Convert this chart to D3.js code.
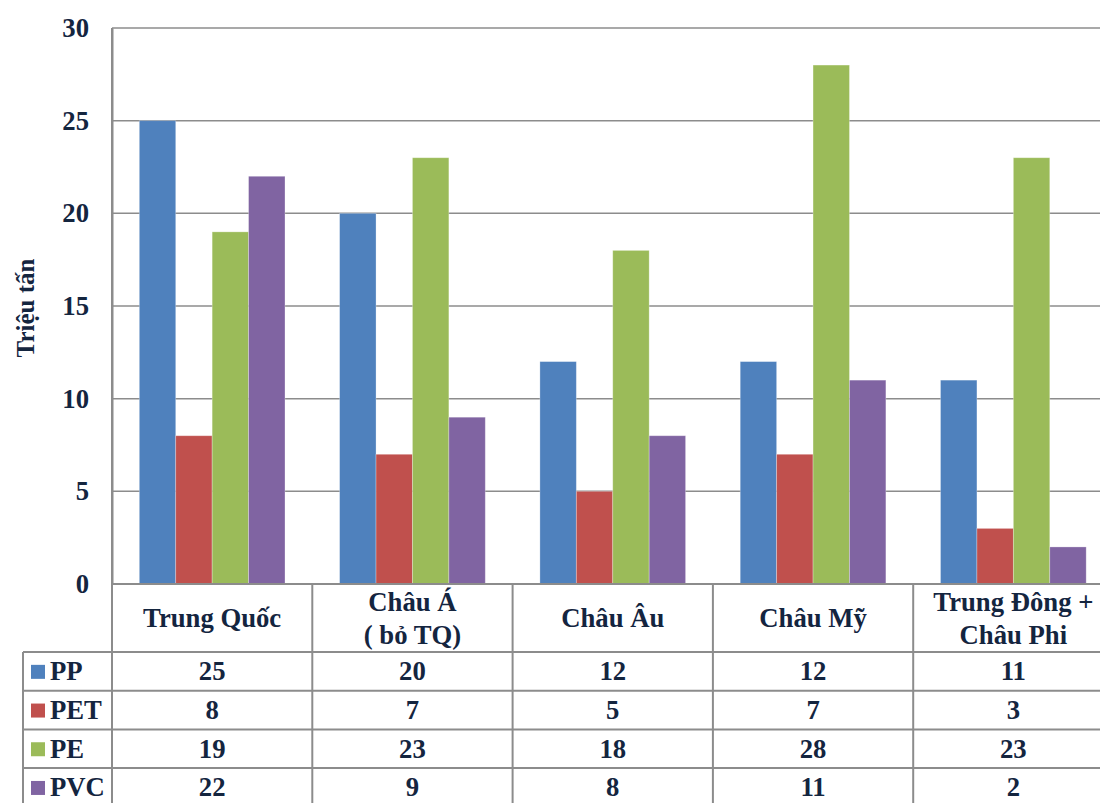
<!DOCTYPE html>
<html>
<head>
<meta charset="utf-8">
<script src="https://cdn.jsdelivr.net/npm/d3@7"></script>
<style>
  html, body { margin: 0; padding: 0; background: #fff; }
  svg { display: block; }
</style>
</head>
<body>
<svg id="chart" width="1100" height="803"></svg>
<script>
// Regions (header rows of the data table; "\n" splits a label onto two lines)
const categories = ["Trung Quốc", "Châu Á\n( bỏ TQ)", "Châu Âu", "Châu Mỹ", "Trung Đông +\nChâu Phi"];
const seriesNames = ["PP", "PET", "PE", "PVC"];
const seriesColors = ["#4f81bd", "#c0504d", "#9bbb59", "#8064a2"];
// Values in million tonnes, one array per plastic type
const ppValues  = [25, 20, 12, 12, 11];
const petValues = [8, 7, 5, 7, 3];
const peValues  = [19, 23, 18, 28, 23];
const pvcValues = [22, 9, 8, 11, 2];
const yTicks = [0, 5, 10, 15, 20, 25, 30];
const yTitle = "Triệu tấn";

const series = [ppValues, petValues, peValues, pvcValues].map((values, i) => ({
  name: seriesNames[i], color: seriesColors[i], values
}));

const FONT = "'Liberation Serif', 'Times New Roman', serif";
const INK = "#14253f";
const FS = 26.7;

const svg = d3.select("#chart");
const gridColor = "#8c8c8c";

// apply the shared label style to a text selection
function label(sel, size) {
  return sel.style("font-family", FONT).style("font-weight", "bold")
    .style("font-size", (size || FS) + "px").style("fill", INK);
}

const plotLeft = 112, plotRight = 1113.5, plotTop = 28, plotBottom = 584;
const x = d3.scaleBand().domain(categories).range([plotLeft, plotRight]).paddingInner(0).paddingOuter(0);
const xs = d3.scaleBand().domain(seriesNames).range([0, x.bandwidth()]).paddingInner(0).paddingOuter(0.75);
const y = d3.scaleLinear().domain([0, 30]).range([plotBottom, plotTop]);

// Horizontal gridlines
svg.append("g")
  .selectAll("line")
  .data(yTicks.filter(t => t > 0))
  .join("line")
  .attr("x1", plotLeft).attr("x2", plotRight)
  .attr("y1", d => y(d)).attr("y2", d => y(d))
  .attr("stroke", gridColor).attr("stroke-width", 1.5);

// Y axis
const yAxis = d3.axisLeft(y).tickValues(yTicks).tickSize(0).tickPadding(23).tickFormat(d3.format("d"));
const gy = svg.append("g").attr("transform", `translate(${plotLeft},0)`).call(yAxis);
gy.select(".domain").attr("stroke", gridColor).attr("stroke-width", 2);
label(gy.selectAll("text"));

label(svg.append("text")
  .attr("transform", `translate(34,${(y(30) + y(0)) / 2 + 2}) rotate(-90)`)
  .attr("text-anchor", "middle"), 25)
  .text(yTitle);

// Bars
const groups = svg.append("g").selectAll("g")
  .data(categories)
  .join("g")
  .attr("transform", d => `translate(${x(d)},0)`);

groups.selectAll("rect")
  .data((d, ci) => series.map(s => ({ name: s.name, color: s.color, value: s.values[ci] })))
  .join("rect")
  .attr("x", d => xs(d.name))
  .attr("width", xs.bandwidth())
  .attr("y", d => y(d.value))
  .attr("height", d => y(0) - y(d.value))
  .attr("fill", d => d.color)
  .attr("stroke", "#ffffff").attr("stroke-opacity", 0.35).attr("stroke-width", 0.8);

// Data table beneath the plot
const headerBottom = 652;
const rowH = 38.7;
const legendLeft = 23;
const tableBottom = headerBottom + rowH * 4 + 10;
const table = svg.append("g").attr("fill", "none").attr("stroke", gridColor).attr("stroke-width", 2);

// horizontal rules
table.append("line").attr("x1", plotLeft).attr("x2", plotRight).attr("y1", plotBottom).attr("y2", plotBottom);
d3.range(4).forEach(i => {
  const yy = headerBottom + i * rowH;
  table.append("line").attr("x1", legendLeft).attr("x2", plotRight).attr("y1", yy).attr("y2", yy);
});
// vertical rules
table.append("line").attr("x1", legendLeft).attr("x2", legendLeft).attr("y1", headerBottom).attr("y2", tableBottom);
table.append("line").attr("x1", plotLeft).attr("x2", plotLeft).attr("y1", plotTop).attr("y2", tableBottom);
categories.forEach(c => {
  const xx = x(c) + x.bandwidth();
  table.append("line").attr("x1", xx).attr("x2", xx).attr("y1", plotBottom).attr("y2", tableBottom);
});

// category header labels
const headerMid = (plotBottom + headerBottom) / 2;
categories.forEach(c => {
  const lines = c.split("\n");
  const lh = 33;
  const t = label(svg.append("text").attr("text-anchor", "middle"));
  lines.forEach((ln, i) => {
    t.append("tspan")
      .attr("x", x(c) + x.bandwidth() / 2)
      .attr("y", headerMid + 9 + (i - (lines.length - 1) / 2) * lh)
      .text(ln);
  });
});

// legend keys + value rows
series.forEach((s, si) => {
  const rowMid = headerBottom + si * rowH + rowH / 2;
  svg.append("rect")
    .attr("x", 31).attr("y", rowMid - 6.5)
    .attr("width", 14).attr("height", 14)
    .attr("fill", s.color);
  label(svg.append("text")
    .attr("x", 50).attr("y", rowMid + 9))
    .text(s.name);
  s.values.forEach((v, ci) => {
    label(svg.append("text")
      .attr("x", x(categories[ci]) + x.bandwidth() / 2)
      .attr("y", rowMid + 9)
      .attr("text-anchor", "middle"))
      .text(v);
  });
});
</script>
</body>
</html>
